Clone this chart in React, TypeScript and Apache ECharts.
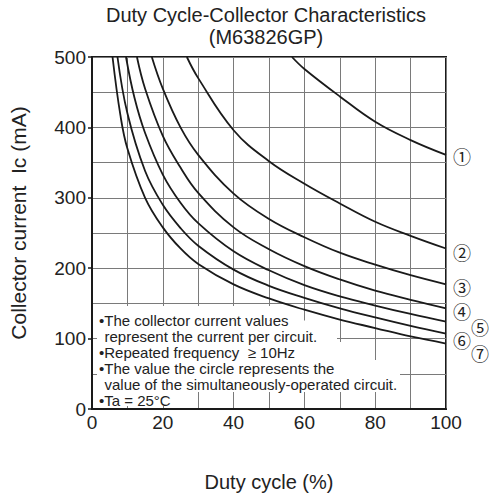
import React, { useEffect, useRef } from 'react';
import * as echarts from 'echarts';

// Curve data: [duty cycle %, collector current mA]
const curve1: [number, number][] = [[56.5, 500], [60, 483], [70, 444], [80, 408], [90, 382], [100, 361]];
const curve2: [number, number][] = [[26.8, 500], [30, 470], [40, 396], [50, 352], [60, 320], [70, 292], [80, 266], [90, 246], [100, 228]];
const curve3: [number, number][] = [[16.9, 500], [20, 455], [25, 400], [30, 361], [40, 306], [50, 270], [60, 244], [70, 222], [80, 205], [90, 190], [100, 177]];
const curve4: [number, number][] = [[12.7, 500], [15, 455], [20, 388], [25, 343], [30, 307], [40, 258], [50, 227], [60, 203], [70, 184], [80, 168], [90, 155], [100, 143]];
const curve5: [number, number][] = [[9.6, 500], [12, 442], [15, 392], [20, 333], [25, 293], [30, 264], [40, 224], [50, 197], [60, 176], [70, 160], [80, 147], [90, 135], [100, 124]];
const curve6: [number, number][] = [[7.2, 500], [10, 420], [15, 338], [20, 290], [25, 257], [30, 232], [40, 198], [50, 175], [60, 158], [70, 143], [80, 130], [90, 118], [100, 107]];
const curve7: [number, number][] = [[5.8, 500], [8, 418], [10, 370], [15, 300], [20, 258], [25, 228], [30, 206], [40, 177], [50, 157], [60, 141], [70, 127], [80, 115], [90, 103], [100, 93]];

const curves = [curve1, curve2, curve3, curve4, curve5, curve6, curve7];
const curveLabels = ['①', '②', '③', '④', '⑤', '⑥', '⑦'];

const titleLines = ['Duty Cycle-Collector Characteristics', '(M63826GP)'];
const xAxisName = 'Duty cycle (%)';
const yAxisName = 'Collector current  Ic (mA)';
const noteLines: { text: string; bullet: boolean }[] = [
  { text: '•The collector current values', bullet: true },
  { text: 'represent the current per circuit.', bullet: false },
  { text: '•Repeated frequency  ≥ 10Hz', bullet: true },
  { text: '•The value the circle represents the', bullet: true },
  { text: 'value of the simultaneously-operated circuit.', bullet: false },
  { text: '•Ta = 25°C', bullet: true },
];

const FONT = '"Liberation Sans", Arial, sans-serif';
const GRID_COLOR = '#7a7a7a';
const INK = '#1a1a1a';

export default function App() {
  const ref = useRef<HTMLDivElement>(null);

  useEffect(() => {
    if (!ref.current) return;
    const chart = echarts.init(ref.current, undefined, { renderer: 'svg' });

    const labelPos: [number, number][] = [
      [462, 156], [462, 252], [462, 287], [462, 311], [480, 327], [462, 340], [480, 353],
    ];

    const masks = [
      { x: 97, y: 306, w: 204, h: 14.5 },
      { x: 97, y: 320.5, w: 240, h: 21.5 },
      { x: 97, y: 342, w: 275, h: 18 },
      { x: 97, y: 360, w: 303, h: 32 },
      { x: 97, y: 392, w: 83, h: 14 },
    ];

    const graphic: any[] = [];
    masks.forEach((m) => {
      graphic.push({
        type: 'rect',
        z: 1,
        shape: { x: m.x, y: m.y, width: m.w, height: m.h },
        style: { fill: '#ffffff' },
        silent: true,
      });
    });
    titleLines.forEach((t, i) => {
      graphic.push({
        type: 'text',
        z: 5,
        x: 266,
        y: 15 + i * 22,
        style: {
          text: t,
          font: `20px ${FONT}`,
          fill: '#222',
          textAlign: 'center',
          textVerticalAlign: 'middle',
        },
      });
    });
    graphic.push({
      type: 'text',
      z: 5,
      x: 18,
      y: 223,
      rotation: Math.PI / 2,
      style: {
        text: yAxisName,
        font: `21px ${FONT}`,
        fill: '#222',
        textAlign: 'center',
        textVerticalAlign: 'middle',
      },
    });
    noteLines.forEach((n, i) => {
      graphic.push({
        type: 'text',
        z: 5,
        x: n.bullet ? 99 : 104.5,
        y: 320 + i * 16,
        style: {
          text: n.text,
          font: `15px ${FONT}`,
          fill: '#222',
          textAlign: 'left',
          textVerticalAlign: 'middle',
        },
      });
    });
    curveLabels.forEach((c, i) => {
      graphic.push({
        type: 'text',
        z: 5,
        x: labelPos[i][0],
        y: labelPos[i][1],
        style: {
          text: c,
          font: `18px "Noto Sans CJK JP", "DejaVu Sans", sans-serif`,
          lineHeight: 17,
          fill: '#222',
          textAlign: 'center',
          textVerticalAlign: 'middle',
        },
      });
    });

    const option: any = {
      animation: false,
      backgroundColor: '#ffffff',
      grid: {
        left: 92,
        right: 43,
        top: 57,
        bottom: 86,
        show: true,
        borderColor: INK,
        borderWidth: 2,
      },
      xAxis: {
        type: 'value',
        min: 0,
        max: 100,
        interval: 20,
        name: xAxisName,
        nameLocation: 'middle',
        nameGap: 63,
        nameTextStyle: { fontFamily: FONT, fontSize: 20, color: '#222' },
        axisLine: { show: true, lineStyle: { color: INK, width: 2 } },
        axisTick: { show: false },
        axisLabel: { fontFamily: FONT, fontSize: 19, color: '#222', margin: 4 },
        splitLine: { show: true, lineStyle: { color: GRID_COLOR, width: 1 } },
        minorTick: { show: false, splitNumber: 2 },
        minorSplitLine: { show: true, lineStyle: { color: GRID_COLOR, width: 1 } },
      },
      yAxis: {
        type: 'value',
        min: 0,
        max: 500,
        interval: 100,
        axisLine: { show: true, lineStyle: { color: INK, width: 2 } },
        axisTick: { show: true, inside: false, length: 4, lineStyle: { color: INK, width: 1.5 } },
        axisLabel: { fontFamily: FONT, fontSize: 19, color: '#222', margin: 6 },
        splitLine: { show: true, lineStyle: { color: GRID_COLOR, width: 1 } },
        minorTick: { show: false, splitNumber: 2 },
        minorSplitLine: { show: true, lineStyle: { color: GRID_COLOR, width: 1 } },
      },
      graphic,
      series: curves.map((c, i) => ({
        type: 'line',
        name: curveLabels[i],
        data: c,
        showSymbol: false,
        smooth: 0.4,
        z: 2,
        lineStyle: { color: INK, width: 1.8 },
      })),
    };

    chart.setOption(option);
    return () => chart.dispose();
  }, []);

  return (
    <div
      ref={ref}
      style={{ position: 'fixed', left: 0, top: 0, width: 489, height: 497, background: '#fff' }}
    />
  );
}
